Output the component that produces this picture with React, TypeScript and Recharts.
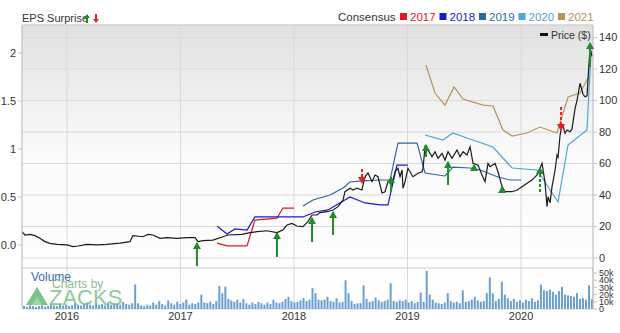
import {
  Bar,
  BarChart,
  CartesianGrid,
  ComposedChart,
  Line,
  ReferenceDot,
  ReferenceLine,
  XAxis,
  YAxis,
} from "recharts"

const YEARS = [2016, 2017, 2018, 2019, 2020]
const X_RANGE: [number, number] = [2015.604, 2020.634]
// the price / EPS scales run down through the volume strip so year lines and labels are shared
const PRICE_RANGE: [number, number] = [-32.4, 148]
const PRICE_PANEL_FLOOR = -6.35
const EPS_RANGE: [number, number] = [-0.667, 2.292]
const VOLUME_RANGE: [number, number] = [0, 57]
const PRICE_TICKS = [0, 20, 40, 60, 80, 100, 120, 140]
const EPS_TICKS = [0, 0.5, 1, 1.5, 2]
const VOLUME_TICKS = [0, 10, 20, 30, 40, 50]

// [time in years, closing price]
const PRICE = [
  [2015.604, 16.7], [2015.63, 14.6], [2015.674, 15.0], [2015.718, 14.2], [2015.762, 12.5],
  [2015.806, 10.4], [2015.85, 9.3], [2015.912, 8.7], [2016.0, 8.3], [2016.053, 7.2],
  [2016.097, 7.6], [2016.176, 8.7], [2016.264, 8.3], [2016.352, 8.7], [2016.467, 9.5],
  [2016.555, 10.4], [2016.581, 14.2], [2016.67, 13.5], [2016.714, 15.0], [2016.758, 14.6],
  [2016.819, 12.5], [2016.881, 12.9], [2016.969, 12.5], [2017.057, 12.9], [2017.128, 12.9],
  [2017.154, 10.4], [2017.198, 11.0], [2017.286, 11.4], [2017.374, 13.5], [2017.419, 14.6],
  [2017.542, 15.0], [2017.612, 16.1], [2017.674, 16.7], [2017.762, 17.3], [2017.85, 16.1],
  [2017.903, 17.8], [2017.938, 21.0], [2017.982, 22.0], [2018.026, 20.3], [2018.079, 19.9],
  [2018.123, 23.1], [2018.159, 27.3], [2018.203, 27.3], [2018.229, 28.8], [2018.291, 29.4],
  [2018.344, 30.5], [2018.388, 32.6], [2018.432, 36.8], [2018.449, 42.1], [2018.493, 44.3],
  [2018.52, 43.2], [2018.555, 44.3], [2018.599, 43.2], [2018.608, 46.4], [2018.626, 51.6],
  [2018.652, 54.0], [2018.687, 48.5], [2018.714, 52.7], [2018.74, 51.6], [2018.775, 41.3],
  [2018.802, 42.1], [2018.828, 48.5], [2018.863, 46.4], [2018.89, 54.8], [2018.916, 57.0],
  [2018.934, 51.6], [2018.952, 55.9], [2018.96, 44.3], [2018.978, 48.5], [2019.004, 57.0],
  [2019.048, 51.6], [2019.093, 53.8], [2019.128, 54.8], [2019.137, 57.0], [2019.154, 70.7],
  [2019.181, 68.6], [2019.216, 64.3], [2019.242, 67.5], [2019.269, 63.3], [2019.304, 66.5],
  [2019.33, 62.2], [2019.357, 67.5], [2019.392, 63.3], [2019.436, 68.6], [2019.463, 64.3],
  [2019.489, 67.5], [2019.524, 65.4], [2019.551, 70.7], [2019.577, 60.1], [2019.621, 59.0],
  [2019.656, 52.7], [2019.683, 48.5], [2019.709, 60.1], [2019.727, 58.0], [2019.771, 60.1],
  [2019.797, 54.8], [2019.833, 45.3], [2019.859, 42.1], [2019.921, 42.1], [2019.965, 43.2],
  [2020.009, 45.3], [2020.053, 47.4], [2020.097, 49.5], [2020.141, 52.7], [2020.167, 57.0],
  [2020.185, 60.1], [2020.211, 48.0], [2020.229, 32.6], [2020.238, 38.9], [2020.256, 35.0],
  [2020.273, 45.3], [2020.3, 55.9], [2020.317, 65.4], [2020.326, 64.0], [2020.344, 78.1],
  [2020.361, 84.5], [2020.37, 84.0], [2020.388, 79.2], [2020.405, 81.3], [2020.432, 80.2],
  [2020.449, 82.0], [2020.476, 95.0], [2020.493, 100.0], [2020.52, 111.0], [2020.546, 104.0],
  [2020.564, 102.4], [2020.581, 103.0], [2020.59, 113.0], [2020.599, 124.0], [2020.608, 133.0],
  [2020.626, 128.0],
]

// consensus EPS estimates, [time in years, EPS]
const CONS_2017 = [
  [2017.322, 0.02], [2017.41, -0.01], [2017.586, -0.01], [2017.656, 0.26], [2017.85, 0.28],
  [2017.903, 0.385], [2018.0, 0.385],
]
const CONS_2018 = [
  [2017.322, 0.198], [2017.41, 0.115], [2017.48, 0.167], [2017.586, 0.156], [2017.656, 0.292],
  [2018.079, 0.292], [2018.185, 0.344], [2018.3, 0.365], [2018.493, 0.5], [2018.626, 0.438],
  [2018.758, 0.417], [2018.828, 0.417], [2018.907, 0.833], [2019.004, 0.833],
]
const CONS_2019 = [
  [2018.079, 0.406], [2018.167, 0.469], [2018.317, 0.521], [2018.432, 0.594], [2018.493, 0.656],
  [2018.599, 0.667], [2018.758, 0.677], [2018.846, 0.677], [2018.916, 1.062], [2019.084, 1.062],
  [2019.154, 0.75], [2019.33, 0.719], [2019.4, 0.812], [2019.551, 0.802], [2019.639, 0.781],
  [2019.797, 0.708], [2019.903, 0.677], [2020.0, 0.677],
]
const CONS_2020 = [
  [2019.154, 1.146], [2019.313, 1.094], [2019.4, 1.167], [2019.524, 1.115], [2019.753, 1.021],
  [2019.921, 0.802], [2020.141, 0.781], [2020.326, 0.448], [2020.414, 1.042], [2020.581, 1.198],
  [2020.617, 2.03],
]
const CONS_2021 = [
  [2019.163, 1.875], [2019.242, 1.583], [2019.33, 1.458], [2019.41, 1.646], [2019.489, 1.521],
  [2019.665, 1.458], [2019.753, 1.448], [2019.841, 1.198], [2019.921, 1.135], [2020.053, 1.167],
  [2020.167, 1.229], [2020.317, 1.167], [2020.414, 1.542], [2020.52, 1.583], [2020.59, 1.74],
]

const CONSENSUS_LABELS = ["2017", "2018", "2019", "2020", "2021"]
const CONSENSUS_SERIES = [CONS_2017, CONS_2018, CONS_2019, CONS_2020, CONS_2021]
const CONSENSUS_COLORS = ["#e8141b", "#1a1ad0", "#2f66a8", "#4aa6d4", "#b8925a"]

// EPS surprise arrows: from -> to on the EPS scale
const SURPRISES = [
  { t: 2017.145, from: -0.22, to: 0.021, dashed: false },
  { t: 2017.85, from: -0.125, to: 0.125, dashed: false },
  { t: 2018.159, from: 0.031, to: 0.281, dashed: false },
  { t: 2018.344, from: 0.104, to: 0.344, dashed: false },
  { t: 2018.599, from: 0.792, to: 0.646, dashed: true },
  { t: 2018.855, from: 0.552, to: 0.708, dashed: false },
  { t: 2019.163, from: 0.917, to: 1.042, dashed: false },
  { t: 2019.357, from: 0.625, to: 0.865, dashed: false },
  { t: 2019.586, from: 0.771, to: 0.833, dashed: false },
  { t: 2019.833, from: 0.542, to: 0.604, dashed: false },
  { t: 2020.167, from: 0.552, to: 0.802, dashed: true },
  { t: 2020.352, from: 1.4375, to: 1.198, dashed: true },
  { t: 2020.608, from: 1.854, to: 2.104, dashed: false },
]

// volume in thousands of shares
const VOLUME = [
  4, 3, 5, 4, 3, 4, 5, 3, 4, 6, 5, 4, 7, 5, 6, 4, 5, 8, 6, 5,
  7, 9, 6, 5, 8, 6, 7, 5, 9, 6, 8, 7, 6, 10, 7, 6, 8, 34, 8, 5,
  4, 6, 5, 9, 6, 11, 7, 5, 12, 8, 6, 10, 7, 9, 13, 6, 8, 7, 9, 20,
  9, 8, 10, 7, 11, 32, 22, 31, 14, 12, 10, 13, 9, 14, 8, 6, 9, 7, 10, 8,
  6, 9, 7, 13, 9, 8, 10, 14, 17, 11, 9, 10, 12, 15, 11, 13, 29, 22, 13, 12,
  13, 17, 11, 10, 15, 9, 10, 40, 22, 11, 7, 8, 8, 33, 14, 10, 11, 16, 12, 10,
  11, 13, 36, 11, 10, 12, 11, 13, 9, 11, 8, 10, 23, 10, 53, 20, 13, 9, 8, 7,
  9, 22, 11, 9, 10, 8, 26, 10, 11, 13, 17, 12, 10, 11, 22, 44, 22, 11, 14, 38,
  20, 15, 11, 14, 10, 12, 9, 13, 11, 15, 10, 12, 34, 26, 25, 27, 24, 20, 25, 31,
  20, 19, 18, 17, 22, 14, 15, 13, 33, 14,
]

const TEXT = "#333"
const GRID = "#d9d9d9"
const AXIS = "#c4c4c4"
const BEAT = "#1e8c2a"
const MISS = "#e3232b"

const toPoints = (rows: number[][]) => rows.map(([t, v]) => ({ t, v }))

function ArrowHead({ cx, cy, up, color }: { cx: number; cy: number; up: boolean; color: string }) {
  const d = up
    ? `M${cx},${cy - 1} L${cx - 4},${cy + 6} L${cx + 4},${cy + 6} Z`
    : `M${cx},${cy + 1} L${cx - 4},${cy - 6} L${cx + 4},${cy - 6} Z`
  return <path d={d} fill={color} />
}

function MainChart() {
  return (
    <ComposedChart width={620} height={333} margin={{ top: 25, right: 0, bottom: 0, left: 0 }}>
      <defs>
        <linearGradient id="plotBg" x1="0" y1="0" x2="0" y2="1">
          <stop offset="0" stopColor="#e0e0e0" />
          <stop offset="0.45" stopColor="#fafafa" />
          <stop offset="1" stopColor="#ffffff" />
        </linearGradient>
      </defs>
      <CartesianGrid yAxisId="price" stroke={GRID} fill="url(#plotBg)" fillOpacity={1} />
      <XAxis
        type="number"
        dataKey="t"
        domain={X_RANGE}
        ticks={YEARS}
        allowDataOverflow
        height={24}
        tickLine={false}
        axisLine={false}
        tickSize={0}
        tickMargin={3}
        tick={{ fill: TEXT, fontSize: 11 }}
      />
      <YAxis
        yAxisId="eps"
        orientation="left"
        width={22}
        domain={EPS_RANGE}
        ticks={EPS_TICKS}
        allowDataOverflow
        stroke={AXIS}
        tickSize={4}
        tick={{ fill: TEXT, fontSize: 11 }}
        tickFormatter={(v: number) => (v === 0 ? "0.0" : String(v))}
      />
      <YAxis
        yAxisId="price"
        orientation="right"
        width={27}
        domain={PRICE_RANGE}
        ticks={PRICE_TICKS}
        allowDataOverflow
        stroke={AXIS}
        tickSize={4}
        tick={{ fill: TEXT, fontSize: 11 }}
      />
      <ReferenceLine yAxisId="price" y={PRICE_RANGE[1]} stroke="#cfcfcf" />
      <ReferenceLine yAxisId="price" y={PRICE_PANEL_FLOOR} stroke="#cfcfcf" />
      {CONSENSUS_SERIES.map((rows, i) => (
        <Line
          key={CONSENSUS_LABELS[i]}
          data={toPoints(rows)}
          dataKey="v"
          yAxisId="eps"
          type="linear"
          stroke={CONSENSUS_COLORS[i]}
          strokeWidth={1.2}
          dot={false}
          isAnimationActive={false}
        />
      ))}
      <Line
        data={toPoints(PRICE)}
        dataKey="v"
        yAxisId="price"
        type="linear"
        stroke="#1a1a1a"
        strokeWidth={1.2}
        dot={false}
        isAnimationActive={false}
      />
      {SURPRISES.map((s) => {
        const up = s.to > s.from
        return (
          <ReferenceLine
            key={`l${s.t}`}
            yAxisId="eps"
            segment={[{ x: s.t, y: s.from }, { x: s.t, y: s.to }]}
            stroke={up ? BEAT : MISS}
            strokeWidth={2}
            strokeDasharray={s.dashed ? "3 2" : undefined}
          />
        )
      })}
      {SURPRISES.map((s) => {
        const up = s.to > s.from
        const color = up ? BEAT : MISS
        return (
          <ReferenceDot
            key={`d${s.t}`}
            yAxisId="eps"
            x={s.t}
            y={s.to}
            r={0}
            shape={(p: any) => <ArrowHead cx={p.cx} cy={p.cy} up={up} color={color} />}
          />
        )
      })}
    </ComposedChart>
  )
}

function VolumeChart() {
  const data = VOLUME.map((v, i) => ({ i, v }))
  return (
    <BarChart width={620} height={60} data={data} margin={{ top: 5, right: 0, bottom: 14, left: 22 }}>
      <XAxis dataKey="i" hide />
      <YAxis
        orientation="right"
        width={27}
        domain={VOLUME_RANGE}
        ticks={VOLUME_TICKS}
        allowDataOverflow
        stroke={AXIS}
        tickSize={4}
        interval={0}
        tick={{ fill: TEXT, fontSize: 9 }}
        tickFormatter={(v: number) => (v === 0 ? "0" : `${v}k`)}
      />
      <Bar dataKey="v" fill="#6a9fd0" barSize={2} isAnimationActive={false} />
    </BarChart>
  )
}

export default function App() {
  return (
    <div
      style={{
        position: "absolute",
        left: 0,
        top: 0,
        width: 620,
        height: 333,
        background: "#fff",
        fontFamily: "'Liberation Sans', Arial, sans-serif",
        overflow: "hidden",
      }}
    >
      <div style={{ position: "absolute", left: 0, top: 0 }}>
        <MainChart />
      </div>
      <div style={{ position: "absolute", left: 0, top: 263 }}>
        <VolumeChart />
      </div>
      <svg width={620} height={333} style={{ position: "absolute", left: 0, top: 0, pointerEvents: "none" }}>
        <text x={22} y={22} fontSize={11} fill={TEXT}>EPS Surprise</text>
        <path d="M87,14 L84,18 L86,18 L86,23 L88,23 L88,18 L90,18 Z" fill={BEAT} />
        <path d="M96,23 L93,19 L95,19 L95,14 L97,14 L97,19 L99,19 Z" fill={MISS} />
        <text x={338} y={21} fontSize={11.5} fill={TEXT}>Consensus</text>
        {CONSENSUS_LABELS.map((label, i) => {
          const x = 400 + i * 39.5
          return (
            <g key={label}>
              <rect x={x} y={13} width={7} height={7} fill={CONSENSUS_COLORS[i]} />
              <text x={x + 10} y={21} fontSize={11.5} fill={CONSENSUS_COLORS[i]}>{label}</text>
            </g>
          )
        })}
        <rect x={540} y={33} width={8} height={3} fill="#111" />
        <text x={551} y={38.5} fontSize={10.5} fill={TEXT}>Price ($)</text>
        <text x={31} y={281} fontSize={12} fill="#3a6ea8">Volume</text>
        <text x={52} y={288} fontSize={12} fill="#7fae86" opacity={0.85}>Charts by</text>
        <polygon points="26,305 37,287 48,305" fill="#64b874" opacity={0.85} />
        <polygon points="32,305 37,297 42,305" fill="#a8dbb0" opacity={0.8} />
        <text x={49} y={305} fontSize={22} fill="#6fc080" opacity={0.8}>ZACKS</text>
      </svg>
    </div>
  )
}
